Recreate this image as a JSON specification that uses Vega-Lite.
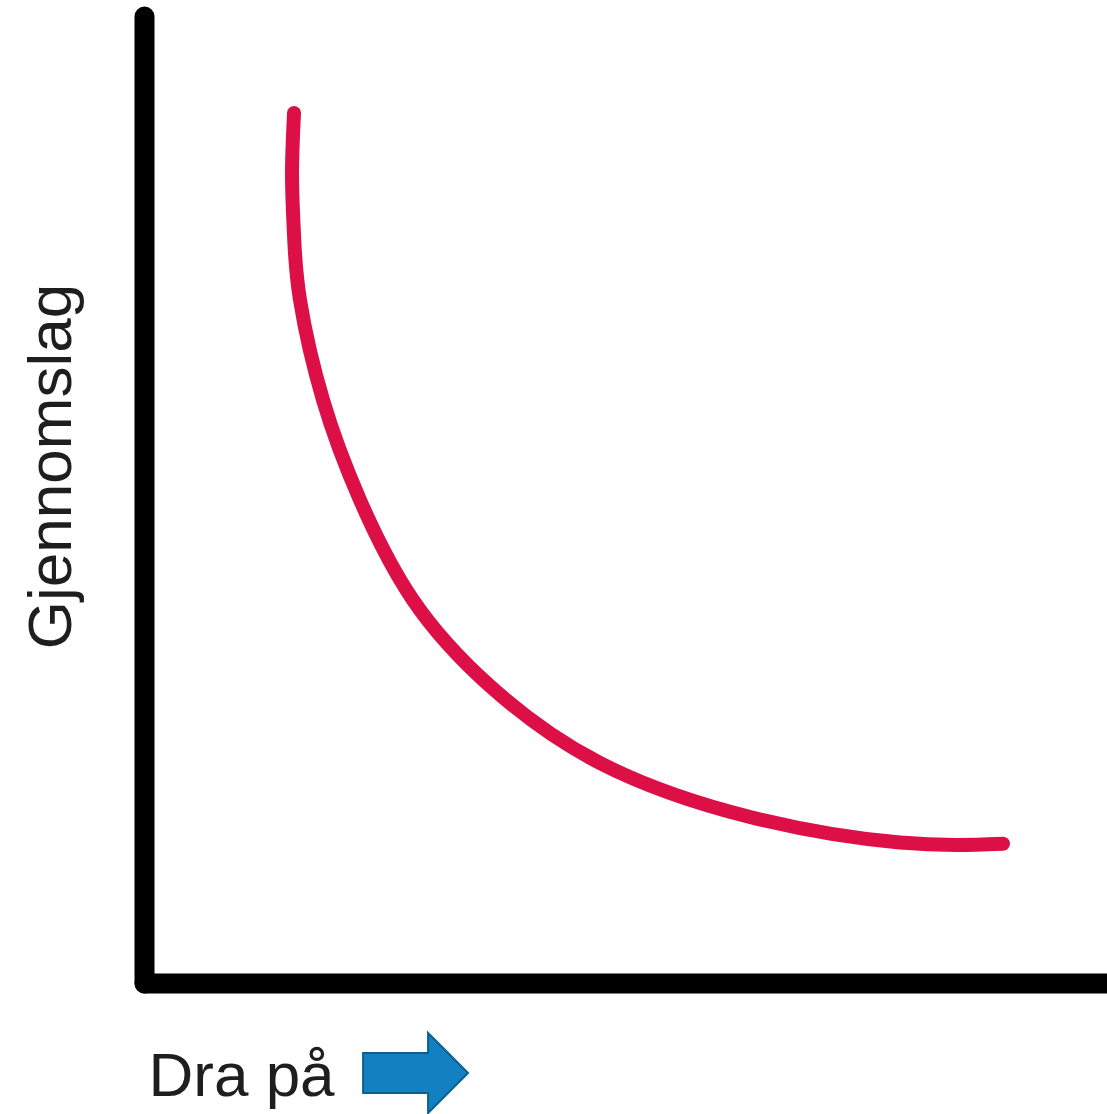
{
  "$schema": "https://vega.github.io/schema/vega-lite/v6.json",
  "width": 963,
  "height": 967,
  "autosize": "none",
  "padding": {"left": 144, "top": 16, "right": 0, "bottom": 131},
  "background": "white",
  "config": {
    "view": {"stroke": null},
    "axis": {
      "domainColor": "#000000",
      "domainWidth": 20,
      "domainCap": "round",
      "ticks": false,
      "labels": false,
      "grid": false,
      "titleFont": "Liberation Sans",
      "titleFontSize": 62,
      "titleFontWeight": "normal",
      "titleColor": "#1e1e1e"
    }
  },
  "data": {
    "values": [
      {"part": "curve", "i": 1, "x": 15.58, "y": 89.97},
      {"part": "curve", "i": 2, "x": 15.37, "y": 83.56},
      {"part": "curve", "i": 3, "x": 15.58, "y": 77.35},
      {"part": "curve", "i": 4, "x": 16.20, "y": 70.63},
      {"part": "curve", "i": 5, "x": 18.59, "y": 60.29},
      {"part": "curve", "i": 6, "x": 22.43, "y": 49.95},
      {"part": "curve", "i": 7, "x": 27.93, "y": 39.61},
      {"part": "curve", "i": 8, "x": 35.93, "y": 30.71},
      {"part": "curve", "i": 9, "x": 47.35, "y": 22.75},
      {"part": "curve", "i": 10, "x": 62.93, "y": 17.17},
      {"part": "curve", "i": 11, "x": 78.50, "y": 14.53},
      {"part": "curve", "i": 12, "x": 89.20, "y": 14.40},
      {"part": "arrow", "i": 0, "x": 28.20, "y": -9.31}
    ]
  },
  "encoding": {
    "x": {
      "field": "x",
      "type": "quantitative",
      "scale": {"domain": [0, 100], "nice": false, "zero": false},
      "axis": {
        "title": "Dra på",
        "titleAngle": 0,
        "titleAlign": "left",
        "titleBaseline": "alphabetic",
        "titleX": 4,
        "titleY": 112
      }
    },
    "y": {
      "field": "y",
      "type": "quantitative",
      "scale": {"domain": [0, 100], "nice": false, "zero": false},
      "axis": {
        "title": "Gjennomslag",
        "titleAngle": -90,
        "titleAlign": "center",
        "titleBaseline": "alphabetic",
        "titleX": -74,
        "titleY": 450
      }
    }
  },
  "layer": [
    {
      "transform": [{"filter": "datum.part === 'curve'"}],
      "mark": {
        "type": "line",
        "color": "#dc1047",
        "strokeWidth": 14,
        "strokeCap": "round",
        "strokeJoin": "round",
        "interpolate": "natural"
      },
      "encoding": {
        "order": {"field": "i", "type": "quantitative"}
      }
    },
    {
      "transform": [{"filter": "datum.part === 'arrow'"}],
      "mark": {
        "type": "point",
        "filled": true,
        "opacity": 1,
        "fill": "#1380c1",
        "stroke": "#0e5e90",
        "strokeWidth": 2,
        "size": 11236,
        "shape": "M -0.99 -0.377 L 0.236 -0.377 L 0.236 -0.755 L 0.99 0 L 0.236 0.755 L 0.236 0.377 L -0.99 0.377 Z"
      }
    }
  ]
}
